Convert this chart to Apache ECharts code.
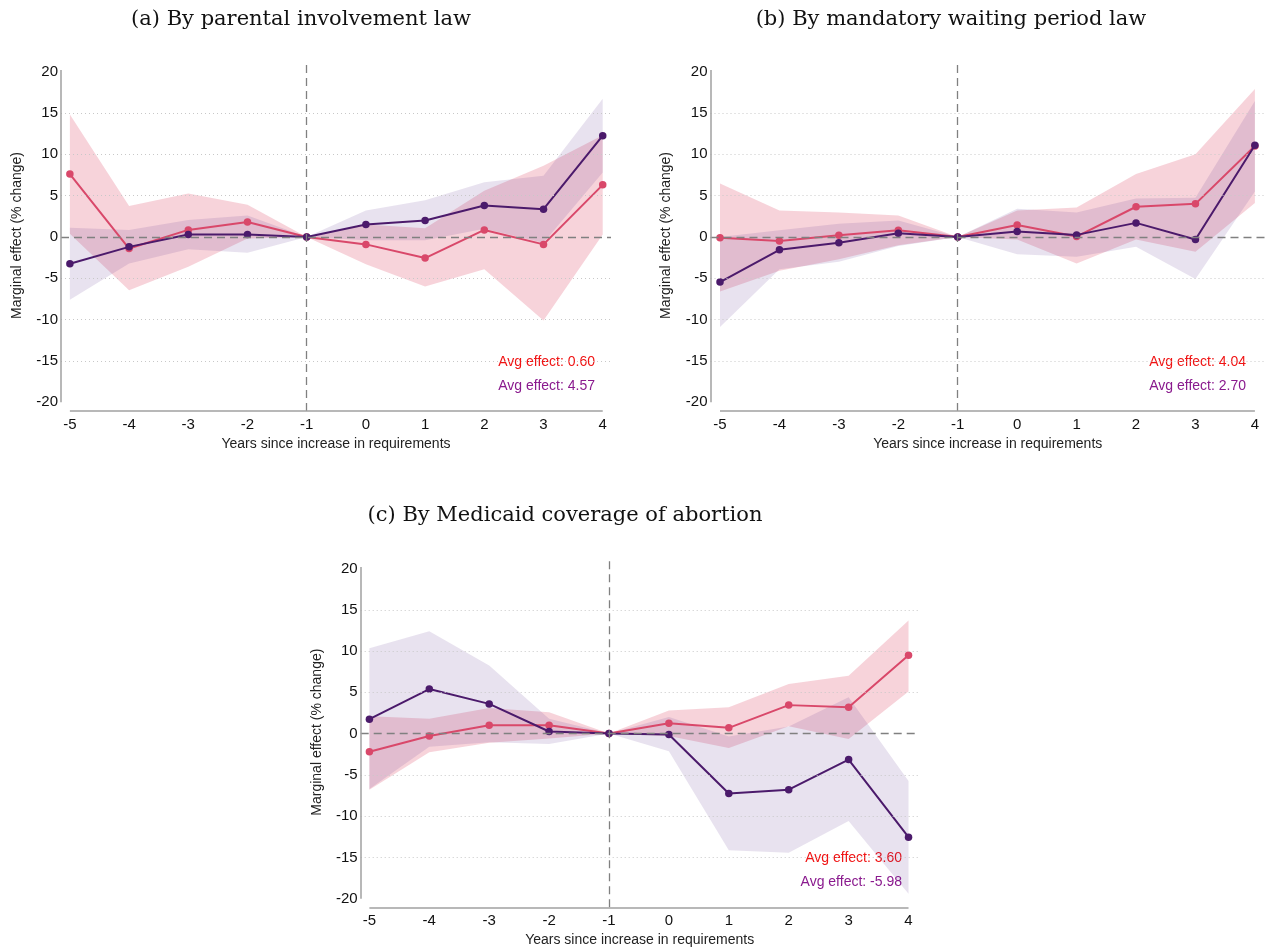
<!DOCTYPE html>
<html>
<head>
<meta charset="utf-8">
<script src="https://cdn.jsdelivr.net/npm/echarts@6/dist/echarts.min.js"></script>
<style>
html, body { margin: 0; padding: 0; background: #fff; }
#main { width: 1265px; height: 950px; }
</style>
</head>
<body>
<div id="main"></div>
<script>
// event time
var years = [-5, -4, -3, -2, -1, 0, 1, 2, 3, 4];
var yTicks = [-20, -15, -10, -5, 0, 5, 10, 15, 20];
var gridTicks = [-15, -10, -5, 5, 10, 15];

// (a) parental involvement law
var aRed   = [7.6, -1.4, 0.85, 1.8, 0, -0.9, -2.55, 0.85, -0.9, 6.3];
var aRedLo = [0.4, -6.45, -3.6, -0.2, 0, -3.3, -6.0, -3.9, -10.1, 0.3];
var aRedHi = [14.8, 3.75, 5.25, 3.9, 0, 1.5, 1.05, 5.6, 8.6, 12.3];
var aPur   = [-3.25, -1.2, 0.3, 0.3, 0, 1.5, 2.0, 3.8, 3.35, 12.25];
var aPurLo = [-7.6, -3.2, -1.5, -1.9, 0, -0.4, -0.4, 1.0, -0.7, 7.8];
var aPurHi = [1.1, 0.85, 2.05, 2.6, 0, 3.2, 4.45, 6.6, 7.4, 16.7];

// (b) mandatory waiting period law
var bRed   = [-0.1, -0.5, 0.2, 0.8, 0, 1.45, 0.05, 3.65, 4.0, 11.0];
var bRedLo = [-6.6, -4.1, -2.7, -1.0, 0, -0.3, -3.2, -0.3, -1.8, 4.1];
var bRedHi = [6.45, 3.2, 2.95, 2.6, 0, 3.2, 3.55, 7.6, 10.0, 17.9];
var bPur   = [-5.45, -1.55, -0.7, 0.45, 0, 0.65, 0.25, 1.7, -0.3, 11.1];
var bPurLo = [-10.9, -3.9, -3.0, -1.1, 0, -2.1, -2.4, -1.2, -5.1, 5.5];
var bPurHi = [0.0, 0.8, 1.6, 2.0, 0, 3.4, 2.95, 4.65, 4.75, 16.45];

// (c) Medicaid coverage of abortion
var cRed   = [-2.2, -0.3, 1.0, 1.0, 0, 1.25, 0.7, 3.45, 3.2, 9.5];
var cRedLo = [-6.8, -2.25, -1.1, -0.6, 0, -0.3, -1.75, 0.9, -0.65, 5.1];
var cRedHi = [2.1, 1.8, 3.1, 2.6, 0, 2.8, 3.2, 6.0, 7.0, 13.7];
var cPur   = [1.75, 5.4, 3.6, 0.25, 0, -0.1, -7.25, -6.8, -3.15, -12.55];
var cPurLo = [-6.7, -1.6, -1.05, -1.25, 0, -2.15, -14.15, -14.45, -10.6, -19.4];
var cPurHi = [10.35, 12.4, 8.25, 1.8, 0, 2.0, -0.35, 0.85, 4.4, -5.75];

var titles = ['(a) By parental involvement law', '(b) By mandatory waiting period law', '(c) By Medicaid coverage of abortion'];
var avgRed = ['0.60', '4.04', '3.60'];
var avgPur = ['4.57', '2.70', '-5.98'];

var RED = '#d9486a', PUR = '#4b1a6b';
var RED_BAND = 'rgba(220,70,100,0.24)', PUR_BAND = 'rgba(90,50,140,0.14)';
var Y_MIN = -21.05, Y_MAX = 21.4;
var FONT = 'Liberation Sans';

var panels = [
    { left: 61, top: 60, width: 550, height: 351, xMin: -5.15, xMax: 4.14,
      red: aRed, redLo: aRedLo, redHi: aRedHi, pur: aPur, purLo: aPurLo, purHi: aPurHi,
      titleX: 301, titleY: 20, avgX: 595, avgY: 362 },
    { left: 710.5, top: 60, width: 554.5, height: 351, xMin: -5.16, xMax: 4.17,
      red: bRed, redLo: bRedLo, redHi: bRedHi, pur: bPur, purLo: bPurLo, purHi: bPurHi,
      titleX: 951, titleY: 20, avgX: 1246, avgY: 362 },
    { left: 360.7, top: 557, width: 558, height: 350.3, xMin: -5.145, xMax: 4.17,
      red: cRed, redLo: cRedLo, redHi: cRedHi, pur: cPur, purLo: cPurLo, purHi: cPurHi,
      titleX: 565, titleY: 516, avgX: 902, avgY: 858 }
];

function pairs(xs, ys) {
    return xs.map(function(x, i) { return [x, ys[i]]; });
}

// one polygon for a whole confidence band
function bandSeries(idx, lo, hi, color) {
    return {
        type: 'custom',
        xAxisIndex: idx,
        yAxisIndex: idx,
        silent: true,
        z: 1,
        data: years.map(function(x, i) { return [x, lo[i], hi[i]]; }),
        encode: { x: 0, y: [1, 2] },
        renderItem: function(params, api) {
            if (params.dataIndex !== 0) return null;
            var pts = [];
            for (var i = 0; i < years.length; i++) pts.push(api.coord([years[i], hi[i]]));
            for (var j = years.length - 1; j >= 0; j--) pts.push(api.coord([years[j], lo[j]]));
            return { type: 'polygon', shape: { points: pts }, style: { fill: color } };
        }
    };
}

function lineSeries(idx, ys, color, z) {
    return {
        type: 'line',
        xAxisIndex: idx,
        yAxisIndex: idx,
        data: pairs(years, ys),
        symbol: 'circle',
        symbolSize: 7.5,
        z: z,
        lineStyle: { color: color, width: 2 },
        itemStyle: { color: color }
    };
}

function guideSeries(idx, p) {
    var dotted = { color: '#c8c8c8', type: [1, 3], width: 1 };
    var lines = gridTicks.map(function(v) { return { yAxis: v, lineStyle: dotted }; });
    lines.push({ yAxis: 0, lineStyle: { color: '#808080', type: [8, 5], width: 1.3 } });
    lines.push({ xAxis: -1, lineStyle: { color: '#808080', type: [8, 5], width: 1.3 } });
    // axis lines
    lines.push([{ coord: [years[0], Y_MIN], lineStyle: { color: '#a0a0a0', type: 'solid', width: 1.5 } },
                { coord: [years[years.length - 1], Y_MIN] }]);
    lines.push([{ coord: [p.xMin, yTicks[0]], lineStyle: { color: '#a0a0a0', type: 'solid', width: 1.5 } },
                { coord: [p.xMin, 20.2] }]);
    return {
        type: 'line',
        xAxisIndex: idx,
        yAxisIndex: idx,
        data: [],
        z: 0,
        markLine: {
            silent: true,
            symbol: ['none', 'none'],
            label: { show: false },
            data: lines
        }
    };
}

var grids = [], xAxes = [], yAxes = [], series = [], graphics = [];
panels.forEach(function(p, i) {
    grids.push({ left: p.left, top: p.top, width: p.width, height: p.height });
    xAxes.push({
        type: 'value', gridIndex: i, min: p.xMin, max: p.xMax,
        name: 'Years since increase in requirements', nameLocation: 'middle', nameGap: 26,
        nameTextStyle: { fontFamily: FONT, fontSize: 14, color: '#222' },
        axisLine: { show: false }, axisTick: { show: false }, splitLine: { show: false },
        axisLabel: { customValues: years, margin: 6, fontFamily: FONT, fontSize: 15, color: '#111' }
    });
    yAxes.push({
        type: 'value', gridIndex: i, min: Y_MIN, max: Y_MAX,
        name: 'Marginal effect (% change)', nameLocation: 'middle', nameGap: 37,
        nameTextStyle: { fontFamily: FONT, fontSize: 14, color: '#222' },
        axisLine: { show: false }, axisTick: { show: false }, splitLine: { show: false },
        axisLabel: { customValues: yTicks, margin: 3, fontFamily: FONT, fontSize: 15, color: '#111' }
    });
    series.push(guideSeries(i, p));
    series.push(bandSeries(i, p.redLo, p.redHi, RED_BAND));
    series.push(bandSeries(i, p.purLo, p.purHi, PUR_BAND));
    series.push(lineSeries(i, p.red, RED, 3));
    series.push(lineSeries(i, p.pur, PUR, 4));

    graphics.push({
        type: 'text', x: p.titleX, y: p.titleY,
        style: { text: titles[i], font: '21px "DejaVu Serif"', fill: '#111',
                 textAlign: 'center', textVerticalAlign: 'middle' }
    });
    graphics.push({
        type: 'text', x: p.avgX, y: p.avgY,
        style: { text: 'Avg effect: ' + avgRed[i], font: '14px "' + FONT + '"', fill: '#f01414',
                 textAlign: 'right', textVerticalAlign: 'middle' }
    });
    graphics.push({
        type: 'text', x: p.avgX, y: p.avgY + 24,
        style: { text: 'Avg effect: ' + avgPur[i], font: '14px "' + FONT + '"', fill: '#8a1a8e',
                 textAlign: 'right', textVerticalAlign: 'middle' }
    });
});

var myChart = echarts.init(document.getElementById('main'));
myChart.setOption({
    animation: false,
    backgroundColor: '#fff',
    grid: grids,
    xAxis: xAxes,
    yAxis: yAxes,
    series: series,
    graphic: graphics
});
</script>
</body>
</html>
